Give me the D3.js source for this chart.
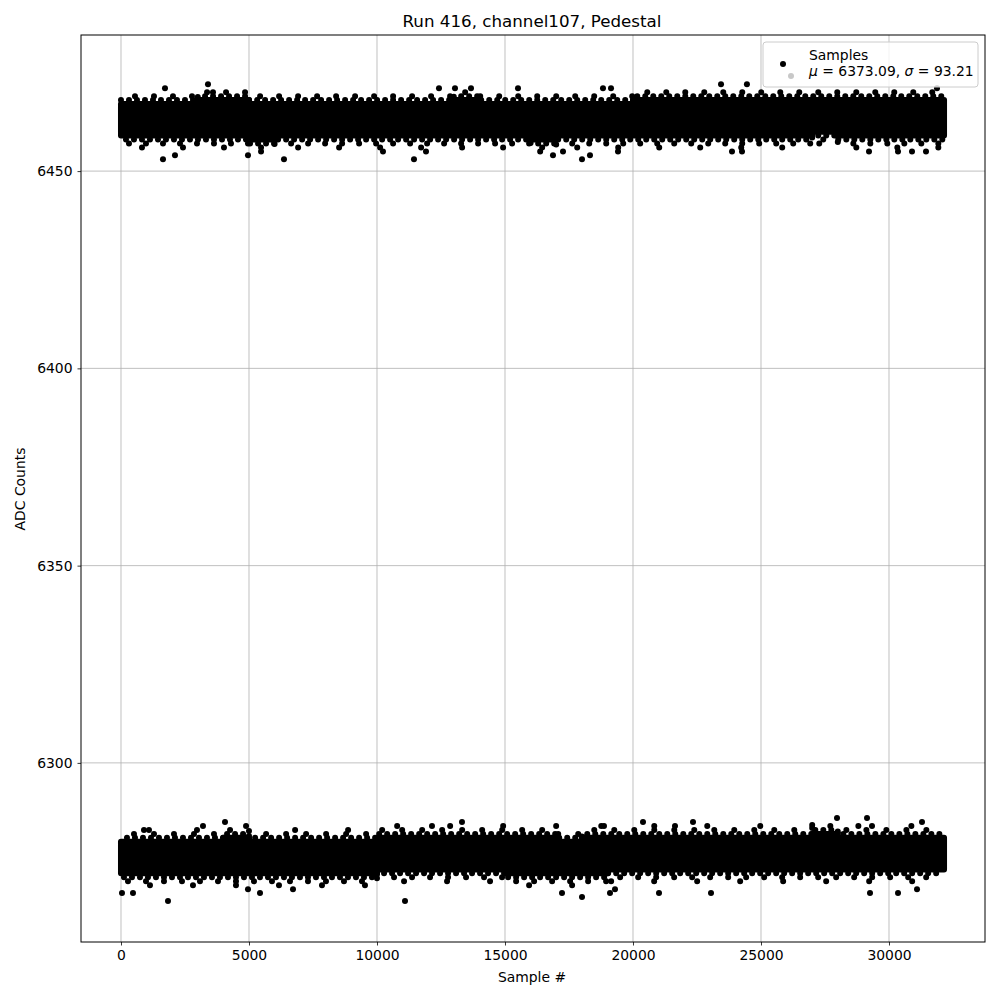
<!DOCTYPE html>
<meta charset="utf-8">
<head>
    <title>Pedestal</title>
</head>
<style>
    body { margin: 0; background: #fff; }
    text { font-family: "DejaVu Sans", sans-serif; }
    .grid line { stroke: #b0b0b0; stroke-width: 0.8; }
</style>
<div id="graph_div"></div>
<script src="https://d3js.org/d3.v7.min.js"></script>
<script>

    // sample bins (1000 samples each), last sample ~32150
    var binStart = [0,1000,2000,3000,4000,5000,6000,7000,8000,9000,10000,11000,12000,13000,14000,15000,
                    16000,17000,18000,19000,20000,21000,22000,23000,24000,25000,26000,27000,28000,29000,30000,31000,32000];
    var lastSample = 32150;

    // dense core of each band (ADC levels of dot centres), read per bin
    var upperHi = [6467,6467,6467,6468,6468,6467,6467,6467,6467,6467,6467,6467,6467,6468,6467,6467,
                   6467,6467,6467,6467,6468,6468,6468,6468,6468,6468,6468,6468,6468,6468,6468,6468,6468];
    var upperLo = [6459,6459,6459,6459,6459,6458,6459,6459,6459,6459,6459,6459,6459,6459,6459,6459,
                   6458,6459,6459,6459,6459,6459,6459,6459,6459,6459,6459,6460,6459,6459,6459,6459,6459];
    var lowerHi = [6280,6280,6280,6280,6281,6280,6280,6280,6280,6280,6281,6281,6281,6281,6281,6281,
                   6281,6280,6281,6281,6281,6281,6281,6281,6281,6281,6281,6282,6281,6281,6281,6281,6281];
    var lowerLo = [6272,6272,6272,6272,6272,6272,6272,6272,6272,6272,6273,6273,6273,6273,6273,6272,
                   6272,6272,6272,6273,6273,6273,6273,6273,6273,6273,6273,6273,6273,6273,6273,6273,6273];

    // isolated samples outside the bands' cores
    var outX = [1719,3398,3594,12422,13047,13672,15508,18828,19141,23438,24450,31875,
                1640,6367,2109,4961,11445,16875,18008,18320,19414,10234,11914,17266,23867,24258,29219,30352,30898,31445,
                4063,3203,1094,13320,20391,12148,18867,21641,22344,27969,29141,31289,29336,
                1836,39,469,5430,6719,4961,11094,18008,17227,19102,21016,19297,23047,29258,30352,31094];
    var outY = [6471,6472,6470,6471,6471,6471,6471,6471,6471,6472,6472,6471,
                6453,6453,6454,6454,6453,6454,6453,6454,6455,6455,6455,6455,6455,6455,6455,6455,6455,6455,
                6285,6284,6283,6285,6285,6284,6284,6284,6285,6286,6286,6285,6284,
                6265,6267,6267,6267,6268,6268,6265,6266,6267,6267,6267,6268,6267,6267,6267,6268];

    var xTicks = [0,5000,10000,15000,20000,25000,30000];
    var yTicks = [6300,6350,6400,6450];

    var margin = {top: 35, right: 15, bottom: 58, left: 81},
        width = 1000 - margin.left - margin.right,
        height = 1000 - margin.top - margin.bottom;

    var svg = d3.select("#graph_div")
      .append("svg")
        .attr("width", 1000)
        .attr("height", 1000);

    var g = svg.append("g")
        .attr("transform", "translate(" + margin.left + "," + margin.top + ")");

    var x = d3.scaleLinear().domain([-1562, 33750]).range([0, width]);
    var y = d3.scaleLinear().domain([6254.6, 6484.5]).range([height, 0]);

    // grid
    var grid = g.append("g").attr("class", "grid");
    grid.selectAll(".gx").data(xTicks).enter().append("line")
        .attr("x1", d => x(d)).attr("x2", d => x(d)).attr("y1", 0).attr("y2", height);
    grid.selectAll(".gy").data(yTicks).enter().append("line")
        .attr("y1", d => y(d)).attr("y2", d => y(d)).attr("x1", 0).attr("x2", width);

    // bins with end point appended for step curves
    var bins = binStart.map(function(s, i) {
        return {s: s, e: i < binStart.length - 1 ? binStart[i + 1] : lastSample,
                uh: upperHi[i], ul: upperLo[i], lh: lowerHi[i], ll: lowerLo[i]};
    });
    var stepPts = bins.concat([Object.assign({}, bins[bins.length - 1], {s: lastSample})]);

    function core(hiKey, loKey) {
        g.append("path")
          .datum(stepPts)
          .attr("fill", "black")
          .attr("stroke", "black")
          .attr("stroke-width", 6)
          .attr("stroke-linejoin", "round")
          .attr("d", d3.area()
            .curve(d3.curveStepAfter)
            .x(d => x(d.s))
            .y0(d => y(d[loKey]))
            .y1(d => y(d[hiKey])));
    }
    function fringe(key, off, gap, shift) {
        g.append("path")
          .datum(stepPts)
          .attr("fill", "none")
          .attr("stroke", "black")
          .attr("stroke-width", 6)
          .attr("stroke-linecap", "round")
          .attr("stroke-dasharray", "0 " + gap)
          .attr("stroke-dashoffset", shift)
          .attr("d", d3.line()
            .curve(d3.curveStepAfter)
            .x(d => x(d.s))
            .y(d => y(d[key] + off)));
    }

    core("uh", "ul");
    core("lh", "ll");
    fringe("uh", 1, 8, 0);  fringe("uh", 2, 19, 5);
    fringe("ul", -1, 8, 3); fringe("ul", -2, 17, 9); fringe("ul", -3, 41, 20);
    fringe("lh", 1, 8, 2);  fringe("lh", 2, 20, 7);  fringe("lh", 3, 53, 30);
    fringe("ll", -1, 8, 5); fringe("ll", -2, 18, 11); fringe("ll", -3, 43, 14);

    g.selectAll(".out").data(outX).enter().append("circle")
        .attr("cx", d => x(d))
        .attr("cy", (d, i) => y(outY[i]))
        .attr("r", 3)
        .attr("fill", "black");

    // axes
    var xAxis = g.append("g")
        .attr("transform", "translate(0," + height + ")")
        .call(d3.axisBottom(x).tickValues(xTicks).tickFormat(d3.format("d")).tickSize(3.5).tickPadding(5));
    var yAxis = g.append("g")
        .call(d3.axisLeft(y).tickValues(yTicks).tickFormat(d3.format("d")).tickSize(3.5).tickPadding(5));
    [xAxis, yAxis].forEach(function(a) {
        a.select(".domain").remove();
        a.selectAll("text").attr("font-family", "DejaVu Sans").attr("font-size", "13.9px").attr("fill", "black");
        a.selectAll("line").attr("stroke", "black").attr("stroke-width", 0.8);
    });

    g.append("rect")
        .attr("width", width).attr("height", height)
        .attr("fill", "none").attr("stroke", "black").attr("stroke-width", 1);

    // labels
    svg.append("text").attr("x", 532).attr("y", 27).attr("text-anchor", "middle")
        .attr("font-size", "16.7px").text("Run 416, channel107, Pedestal");
    svg.append("text").attr("x", 532).attr("y", 982).attr("text-anchor", "middle")
        .attr("font-size", "13.9px").text("Sample #");
    svg.append("text").attr("transform", "translate(25,489) rotate(-90)").attr("text-anchor", "middle")
        .attr("font-size", "13.9px").text("ADC Counts");

    // legend
    var lg = svg.append("g");
    lg.append("rect").attr("x", 763).attr("y", 42).attr("width", 215).attr("height", 45)
        .attr("rx", 3).attr("fill", "white").attr("fill-opacity", 0.8)
        .attr("stroke", "#cccccc").attr("stroke-width", 1);
    lg.append("circle").attr("cx", 783).attr("cy", 64).attr("r", 3).attr("fill", "black");
    lg.append("circle").attr("cx", 791).attr("cy", 76).attr("r", 3).attr("fill", "#c8c8c8");
    lg.append("text").attr("x", 809).attr("y", 60).attr("font-size", "13.9px").text("Samples");
    var t2 = lg.append("text").attr("x", 809).attr("y", 76).attr("font-size", "13.9px");
    t2.append("tspan").attr("font-style", "italic").text("\u03bc");
    t2.append("tspan").text(" = 6373.09, ");
    t2.append("tspan").attr("font-style", "italic").text("\u03c3");
    t2.append("tspan").text(" = 93.21");
</script>
